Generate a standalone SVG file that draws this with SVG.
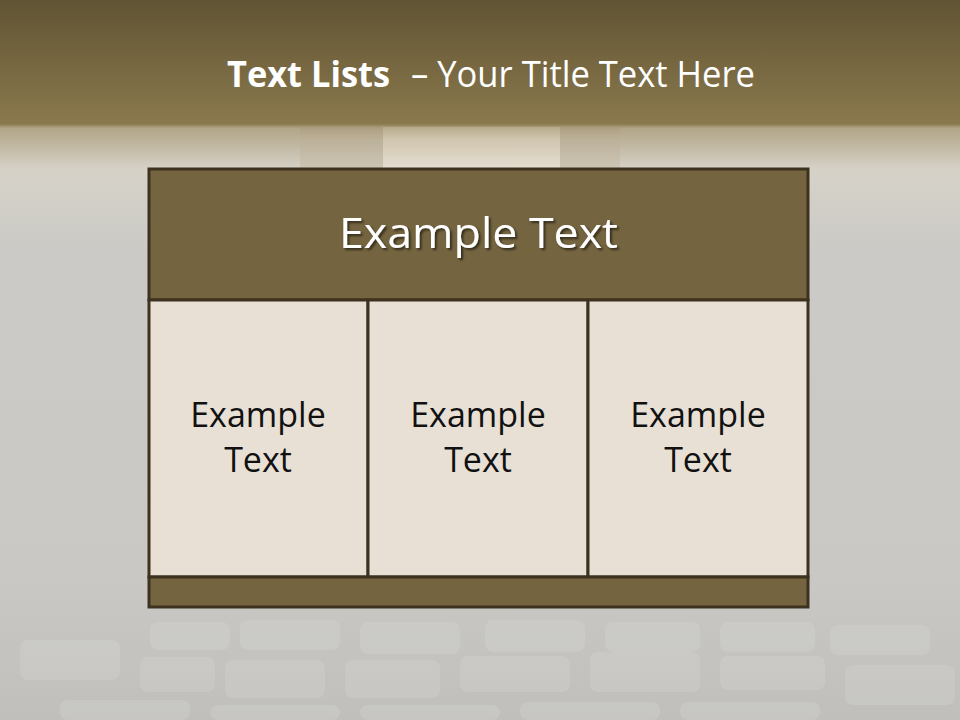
<svg xmlns="http://www.w3.org/2000/svg" width="960" height="720" viewBox="0 0 960 720">
<defs>
<linearGradient id="bg" x1="0" y1="0" x2="0" y2="1">
<stop offset="0" stop-color="#615434"/>
<stop offset="0.172" stop-color="#8a794d"/>
<stop offset="0.178" stop-color="#b2a587"/>
<stop offset="0.235" stop-color="#d6d2c8"/>
<stop offset="0.35" stop-color="#cbcac6"/>
<stop offset="0.8" stop-color="#c9c8c4"/>
<stop offset="1" stop-color="#c0bfbb"/>
</linearGradient>
<linearGradient id="mid" x1="0" y1="0" x2="0" y2="1">
<stop offset="0" stop-color="#b8ab8e"/>
<stop offset="0.3" stop-color="#d4c9b3"/>
<stop offset="1" stop-color="#e6dfd2"/>
</linearGradient>
<linearGradient id="pillar" x1="0" y1="0" x2="0" y2="1">
<stop offset="0" stop-color="#a99a7c"/>
<stop offset="0.3" stop-color="#bcb098"/>
<stop offset="1" stop-color="#c6bcaa"/>
</linearGradient>
<filter id="sh" x="-10%" y="-10%" width="120%" height="130%">
<feDropShadow dx="2" dy="2" stdDeviation="1" flood-color="#000" flood-opacity="0.55"/>
</filter>
</defs>
<style>
.frame{stroke:#3d3220;stroke-width:3}
.dark{fill:#74643f}
.light{fill:#e8e0d4}
.cell{font-family:"Open Sans","Noto Sans",sans-serif;font-size:34px;fill:#111;text-anchor:middle}
.stone{fill:#d8d7d3;opacity:0.3}
</style>
<rect width="960" height="720" fill="url(#bg)"/>
<g id="background">
<rect x="300" y="127" width="83" height="41" fill="url(#pillar)" opacity="0.6"/>
<rect x="383" y="127" width="177" height="41" fill="url(#mid)" opacity="0.85"/>
<rect x="560" y="127" width="60" height="41" fill="url(#pillar)" opacity="0.6"/>
<g>
<rect x="150" y="622" width="80" height="28" rx="8" class="stone"/>
<rect x="240" y="620" width="100" height="30" rx="8" class="stone"/>
<rect x="360" y="622" width="100" height="32" rx="8" class="stone"/>
<rect x="485" y="620" width="100" height="32" rx="8" class="stone"/>
<rect x="605" y="622" width="95" height="30" rx="8" class="stone"/>
<rect x="720" y="622" width="95" height="30" rx="8" class="stone"/>
<rect x="140" y="657" width="75" height="35" rx="8" class="stone"/>
<rect x="225" y="660" width="100" height="38" rx="8" class="stone"/>
<rect x="345" y="660" width="95" height="38" rx="8" class="stone"/>
<rect x="460" y="656" width="110" height="36" rx="8" class="stone"/>
<rect x="590" y="652" width="110" height="40" rx="8" class="stone"/>
<rect x="720" y="656" width="105" height="34" rx="8" class="stone"/>
<rect x="830" y="625" width="100" height="30" rx="8" class="stone"/>
<rect x="845" y="665" width="110" height="40" rx="8" class="stone"/>
<rect x="20" y="640" width="100" height="40" rx="8" class="stone"/>
<rect x="60" y="700" width="130" height="20" rx="8" class="stone"/>
<rect x="210" y="705" width="130" height="15" rx="8" class="stone"/>
<rect x="360" y="705" width="140" height="15" rx="8" class="stone"/>
<rect x="520" y="702" width="140" height="18" rx="8" class="stone"/>
<rect x="680" y="702" width="140" height="18" rx="8" class="stone"/>
</g>
</g>
<g id="title" font-family="'Open Sans','Noto Sans',sans-serif" font-size="36px" fill="#ffffff">
<text x="227" y="87" font-weight="bold" textLength="163" lengthAdjust="spacingAndGlyphs">Text Lists</text>
<text x="411" y="87" textLength="344" lengthAdjust="spacingAndGlyphs">– Your Title Text Here</text>
</g>
<g id="header">
<rect x="149" y="169" width="659" height="131" class="dark frame"/>
<text x="339" y="248" font-family="'Open Sans','Noto Sans',sans-serif" font-size="42px" fill="#ffffff" textLength="279" lengthAdjust="spacingAndGlyphs" filter="url(#sh)">Example Text</text>
</g>
<g id="cell1">
<rect x="149" y="300" width="219" height="277" class="light frame"/>
<text x="258" y="427" class="cell">Example</text>
<text x="258" y="472" class="cell">Text</text>
</g>
<g id="cell2">
<rect x="368" y="300" width="220" height="277" class="light frame"/>
<text x="478" y="427" class="cell">Example</text>
<text x="478" y="472" class="cell">Text</text>
</g>
<g id="cell3">
<rect x="588" y="300" width="220" height="277" class="light frame"/>
<text x="698" y="427" class="cell">Example</text>
<text x="698" y="472" class="cell">Text</text>
</g>
<g id="footer">
<rect x="149" y="577" width="659" height="30" class="dark frame"/>
</g>
<g id="connectors"/>
</svg>
